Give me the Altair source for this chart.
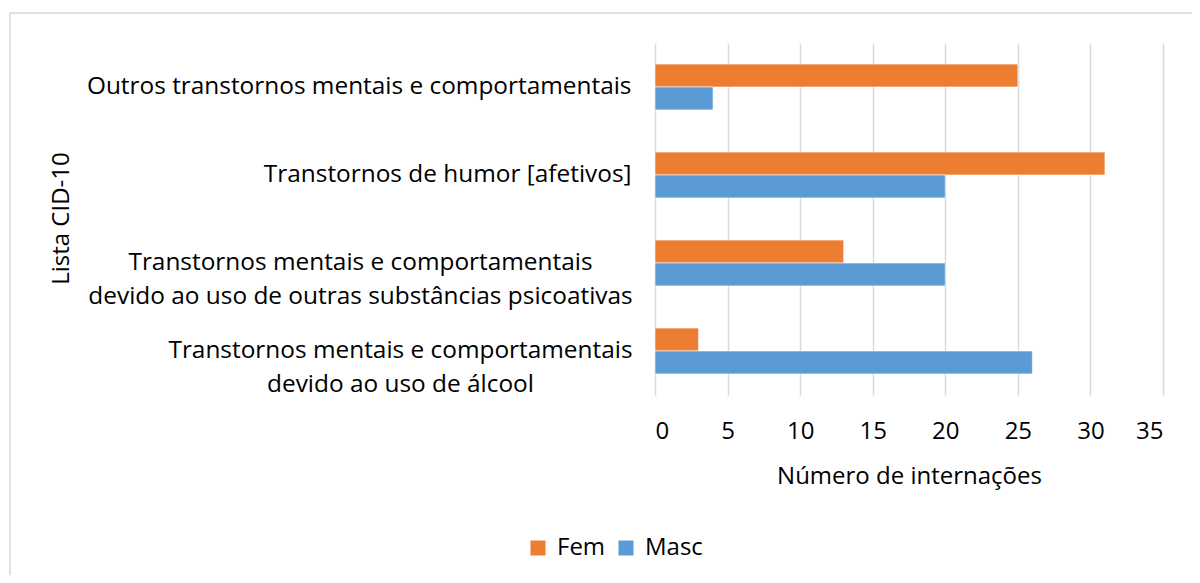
import altair as alt
import pandas as pd

categories = [
    "Outros transtornos mentais e comportamentais",
    "Transtornos de humor [afetivos]",
    "Transtornos mentais e comportamentais|devido ao uso de outras substâncias psicoativas",
    "Transtornos mentais e comportamentais|devido ao uso de álcool",
]
series = ["Fem", "Masc"]
fem = [25, 31, 13, 3]
masc = [4, 20, 20, 26]
colors = ["#ED7D31", "#5B9BD5"]
x_ticks = [0, 5, 10, 15, 20, 25, 30, 35]

rows = []
for c, f, m in zip(categories, fem, masc):
    rows.append({"cat": c, "sexo": "Fem", "valor": f})
    rows.append({"cat": c, "sexo": "Masc", "valor": m})
df = pd.DataFrame(rows)

FONT = "Open Sans"
FS = 24

# two-line labels are centred line by line, as in the original
label_align = {
    "condition": {"test": "indexof(datum.value, '|') >= 0", "value": "center"},
    "value": "right",
}
label_pad = {
    "condition": [
        {"test": "indexof(datum.value, 'psicoativas') >= 0", "value": 295},
        {"test": "indexof(datum.value, 'lcool') >= 0", "value": 255},
    ],
    "value": 24,
}

bars = alt.Chart(df).mark_bar(stroke="white", strokeWidth=0.6).encode(
    y=alt.Y(
        "cat:N",
        sort=categories,
        scale=alt.Scale(paddingInner=0.48, paddingOuter=0.24),
        axis=alt.Axis(
            title="Lista CID-10",
            labelExpr="split(datum.label, '|')",
            labelFontSize=24.4,
            labelColor="#000000",
            labelAlign=label_align,
            labelPadding=label_pad,
            labelLimit=0,
            labelLineHeight=34,
            domain=False,
            ticks=False,
            titleFontSize=FS,
            titleFontWeight="normal",
            titleColor="#000000",
            titleX=-587,
            titleY=175,
            titleAngle=270,
            titleAlign="center",
            titleBaseline="alphabetic",
        ),
    ),
    yOffset=alt.YOffset("sexo:N", sort=series),
    x=alt.X(
        "valor:Q",
        scale=alt.Scale(domain=[0, 35], nice=False),
        axis=alt.Axis(
            values=x_ticks,
            grid=True,
            gridColor="#d9d9d9",
            gridWidth=1.5,
            domain=False,
            ticks=False,
            labelFontSize=FS,
            labelColor="#000000",
            labelPadding=24,
            title="Número de internações",
            titleFontSize=FS,
            titleFontWeight="normal",
            titleColor="#000000",
            titlePadding=21,
        ),
    ),
    color=alt.Color(
        "sexo:N",
        sort=series,
        scale=alt.Scale(domain=series, range=colors),
        legend=alt.Legend(
            orient="none",
            legendX=-129,
            legendY=493,
            direction="horizontal",
            title=None,
            symbolType="square",
            symbolSize=225,
            symbolStrokeWidth=0,
            symbolOffset=0,
            labelFontSize=FS,
            labelColor="#000000",
            labelOffset=7,
            columnPadding=8,
        ),
    ),
)

frame = alt.Chart(pd.DataFrame({"k": [0]})).mark_rect(
    fill=None, stroke="#d9d9d9", strokeWidth=1.5
).encode(
    x=alt.value(-645), x2=alt.value(600), y=alt.value(-30), y2=alt.value(600)
)

chart = alt.layer(frame, bars).properties(
    width=508,
    height=352,
    autosize="none",
    padding={"left": 647, "top": 35, "right": 29, "bottom": 180},
).configure(font=FONT, view=alt.ViewConfig(stroke=None))

chart.save("out.html", embed_options={"renderer": "svg", "actions": False})
